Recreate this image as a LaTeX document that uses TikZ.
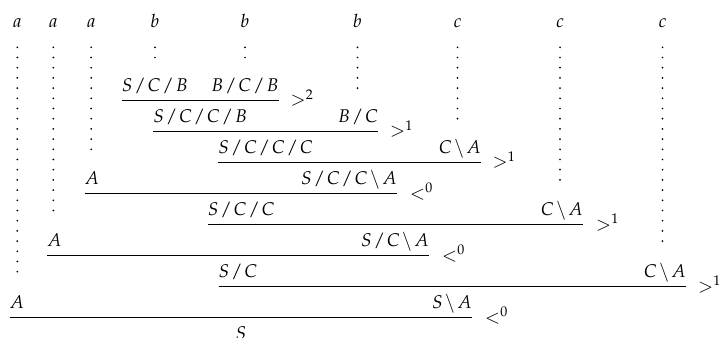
\documentclass[tikz,border=0pt]{standalone}
\usepackage{mathpazo}
\newcommand\dsl{\mskip1.7mu/\mskip1.7mu}
\newcommand\dbs{\mskip2.2mu\backslash\mskip2.2mu}
\begin{document}
\begin{tikzpicture}[x=0.75pt,y=-0.75pt]
\tikzset{
  lab/.style={inner sep=0pt, outer sep=0pt, font=\fontsize{13.8}{16}\selectfont},
  rl/.style={line width=0.8pt},
  dotmark/.style={fill=black}
}
\useasboundingbox (0,0) rectangle (720,338);
% top letters
\foreach \nm/\x/\t in {ta1/17.3/a, ta2/53.3/a, ta3/91.2/a, tb1/155/b, tb2/245/b, tb3/357.5/b, tc1/457.5/c, tc2/560/c, tc3/662.5/c}
  \node[lab,anchor=base] (\nm) at (\x,28) {$\t$};
% dotted columns
\foreach \x/\n in {17.3/23, 53.3/17, 91.2/11, 155/2, 245/2, 357.5/5, 457.5/8, 560/14, 662.5/20}
  \foreach \k in {1,...,\n}
    \fill[dotmark] (\x,{47.3+10.2*(\k-1)}) circle[radius=0.72pt];
% line heights
\foreach \i/\y in {1/100.5, 2/131.5, 3/162.5, 4/193.5, 5/224.5, 6/255.5, 7/286.5, 8/317.5}
  \coordinate (y\i) at (0,\y);
% row 0
\node[lab,anchor=base west] (n01) at (122,91.1) {$S\dsl C\dsl B$};
\node[lab,anchor=base east] (n02) at (278.5,91.1) {$B\dsl C\dsl B$};
\draw[rl] (n01.west |- y1) -- (n02.east |- y1);
\node[lab,anchor=base west] (g1) at (290.5,105.8) {$>^2$};
% row 1
\node[lab,anchor=base] (n11) at (200.2,122.2) {$S\dsl C\dsl C\dsl B$};
\node[lab,anchor=base east] (n12) at (378,122.2) {$B\dsl C$};
\draw[rl] (n11.west |- y2) -- (n12.east |- y2);
\node[lab,anchor=base west] (g2) at (390,136.9) {$>^1$};
% row 2
\node[lab,anchor=base] (n21) at (265.6,153.3) {$S\dsl C\dsl C\dsl C$};
\node[lab,anchor=base east] (n22) at (481,153.3) {$C\dbs A$};
\draw[rl] (n21.west |- y3) -- (n22.east |- y3);
\node[lab,anchor=base west] (g3) at (492.5,168.0) {$>^1$};
% row 3
\node[lab,anchor=base west] (n31) at (84.5,184.4) {$A$};
\node[lab,anchor=base] (n32) at (349,184.4) {$S\dsl C\dsl C\dbs A$};
\draw[rl] (n31.west |- y4) -- (n32.east |- y4);
\node[lab,anchor=base west] (g4) at (410,199.1) {$<^0$};
% row 4
\node[lab,anchor=base] (n41) at (241.2,215.5) {$S\dsl C\dsl C$};
\node[lab,anchor=base east] (n42) at (583,215.5) {$C\dbs A$};
\draw[rl] (n41.west |- y5) -- (n42.east |- y5);
\node[lab,anchor=base west] (g5) at (596,230.2) {$>^1$};
% row 5
\node[lab,anchor=base west] (n51) at (47,246.6) {$A$};
\node[lab,anchor=base] (n52) at (395,246.6) {$S\dsl C\dbs A$};
\draw[rl] (n51.west |- y6) -- (n52.east |- y6);
\node[lab,anchor=base west] (g6) at (442,261.3) {$<^0$};
% row 6
\node[lab,anchor=base] (n61) at (238,277.7) {$S\dsl C$};
\node[lab,anchor=base east] (n62) at (686,277.7) {$C\dbs A$};
\draw[rl] (n61.west |- y7) -- (n62.east |- y7);
\node[lab,anchor=base west] (g7) at (698,292.4) {$>^1$};
% row 7
\node[lab,anchor=base west] (n71) at (9.5,308.8) {$A$};
\node[lab,anchor=base] (n72) at (452,308.8) {$S\dbs A$};
\draw[rl] (n71.west |- y8) -- (n72.east |- y8);
\node[lab,anchor=base west] (g8) at (485,323.5) {$<^0$};
% row 8
\node[lab,anchor=base] (n81) at (241,339.9) {$S$};
\end{tikzpicture}
\end{document}
